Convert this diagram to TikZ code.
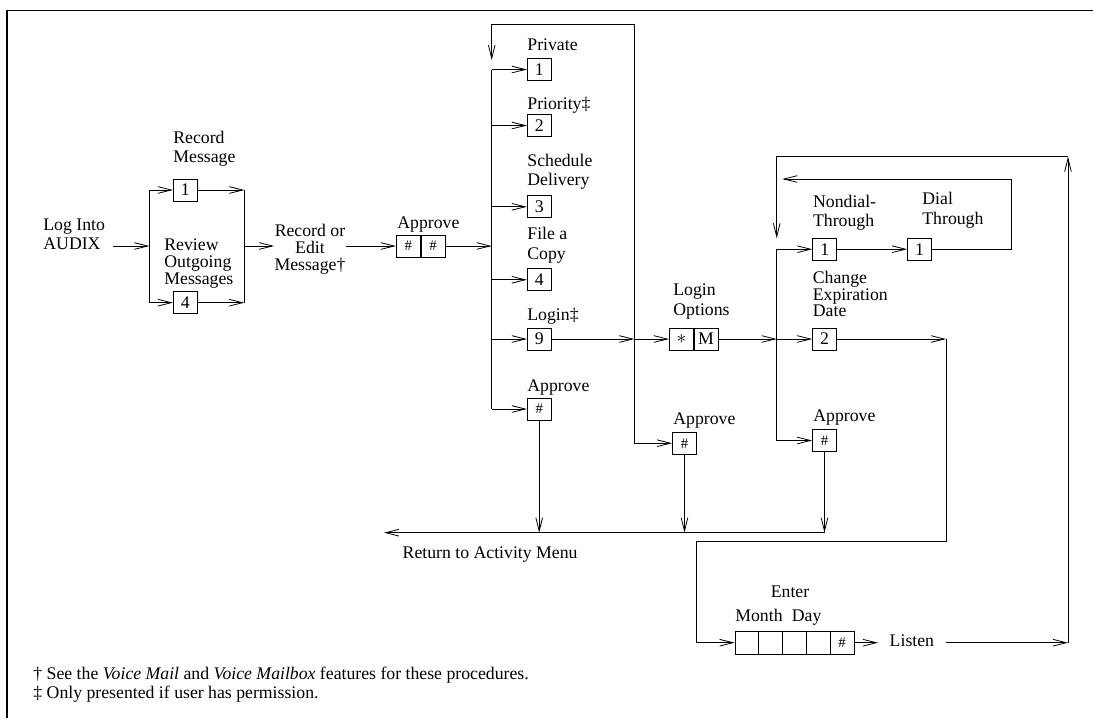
\documentclass[tikz,border=0pt]{standalone}
\usepackage{fontspec}
\setmainfont{Liberation Serif}
\usetikzlibrary{arrows.meta,positioning}

\newcommand{\keyhash}{{\fontsize{11pt}{11pt}\selectfont\#}}

\tikzset{
    flow/.style={-{Straight Barb[length=10pt,width=5pt]}},
    key/.style={draw, minimum width=18pt, minimum height=16.5pt, inner sep=0pt},
    lbl/.style={inner sep=0pt, align=left, anchor=south west},
    tight/.style={font=\fontsize{13.3pt}{12.5pt}\selectfont},
    word/.style={inner sep=0pt, anchor=base west}
}

\begin{document}
\begin{tikzpicture}[x=0.75pt, y=-0.75pt, line width=0.6pt,
    every node/.style={font=\fontsize{13.3pt}{14.5pt}\selectfont}]
    \fill[white] (0,0) rectangle (1093,718);
    \useasboundingbox (0,0) rectangle (1093,718);

    % frame
    \draw[line width=1pt] (7,718) -- (7,10.7) -- (1093,10.7);

    % log in and record
    \node[lbl, inner xsep=6pt] (log) at (35,256.1) {Log Into\\AUDIX\strut};
    \node[key] (rm1) at (185.3,190) {1};
    \node[key] (rm4) at (185.3,302.7) {4};
    \node[lbl] (rm1l) at (173,168.7) {Record\\Message\strut};
    \node[lbl, tight] (rm4l) at (164,289.4) {Review\\Outgoing\\Messages\strut};
    \coordinate (sl1) at (149.3,190);
    \coordinate (sl4) at (149.3,302.7);
    \coordinate (lx) at (149.3,246);
    \coordinate (sr1) at (244.3,190);
    \coordinate (sr4) at (244.3,302.7);
    \coordinate (sm) at (244.3,246);

    \draw[flow] (log.east |- lx) -- (lx);
    \draw (sl1) -- (sl4);
    \draw[flow] (sl1) -- (rm1);
    \draw[flow] (sl4) -- (rm4);
    \draw[flow] (rm1) -- (sr1);
    \draw[flow] (rm4) -- (sr4);
    \draw (sr1) -- (sr4);

    \node[lbl, tight, align=center, anchor=south] (edit) at (310,275.4) {Record or\\Edit\\Message†\strut};
    \draw[flow] (sm) -- (edit.west |- sm);

    % approve the message
    \node[key] (ap1) at (408.2,246) {\keyhash};
    \node[key, right=0pt of ap1] (ap2) {\keyhash};
    \node[word] (apl) at (397,228.3) {Approve};
    \draw[flow] (edit.east |- ap1) -- (ap1);

    % options column
    \coordinate (cb1) at (491.7,69.5);
    \coordinate (cbz) at (491.7,409);
    \foreach \nm/\y/\t in {pvt/69.5/1, pri/125.5/2, sch/206.8/3, fil/279.8/4, lgn/339/9, capp/409/\keyhash}
        \node[key] (\nm) at (539.2,\y) {\t};
    \node[word] (pvtl) at (527,50.7) {Private};
    \node[word] (pril) at (527,109) {Priority‡};
    \node[lbl] (schl) at (527,192.1) {Schedule\\Delivery\strut};
    \node[lbl] (fill) at (527,265.4) {File a\\Copy\strut};
    \node[word] (lgnl) at (527,320) {Login‡};
    \node[word] (cappl) at (527,391) {Approve};

    \draw[flow] (ap2) -- (ap2 -| cb1);
    \draw (cb1) -- (cbz);
    \foreach \nm in {pvt,pri,sch,fil,lgn,capp}
        \draw[flow] (\nm -| cb1) -- (\nm);

    % loop back to the options
    \coordinate (tr) at (634.3,24.3);
    \coordinate (tl) at (491.7,24.3);
    \coordinate (tlend) at (491.7,60);

    % login options
    \node[key] (lo1) at (681.3,339) {$*$};
    \node[key, right=0pt of lo1] (lo2) {M};
    \node[lbl] (lol) at (673,321.4) {Login\\Options\strut};
    \node[key] (mapp) at (684.5,443.2) {\keyhash};
    \node[word] (mappl) at (673,424) {Approve};

    \draw[flow] (lgn) -- (lgn -| tr);
    \draw[flow] (lgn -| tr) -- (lo1);
    \draw[flow] (tr |- mapp) -- (tr) -- (tl) -- (tlend);
    \draw[flow] (tr |- mapp) -- (mapp);

    % login option keys
    \coordinate (rbt) at (776.7,249.2);
    \coordinate (rbb) at (776.7,440.5);
    \node[key] (nd1) at (824.7,249.2) {1};
    \node[key] (dt1) at (919.5,249.2) {1};
    \node[key] (ce2) at (824.5,339) {2};
    \node[key] (rapp) at (824.5,440.5) {\keyhash};
    \node[lbl] (nd1l) at (812.7,232.7) {Nondial-\\Through\strut};
    \node[lbl] (dt1l) at (922,230.4) {Dial\\Through\strut};
    \node[lbl, tight] (ce2l) at (812.5,322.1) {Change\\Expiration\\Date\strut};
    \node[word] (rappl) at (813,421) {Approve};

    \draw[flow] (lo2) -- (lo2 -| rbt);
    \draw (rbt) -- (rbb);
    \draw[flow] (rbt) -- (nd1);
    \draw[flow] (ce2 -| rbt) -- (ce2);
    \draw[flow] (rbb) -- (rapp);
    \draw[flow] (nd1) -- (dt1);

    % dial through loop
    \coordinate (il1) at (1011.7,179);
    \coordinate (il2) at (782.3,179);
    \draw[flow] (dt1) -- (dt1 -| il1) -- (il1) -- (il2);

    % return to activity menu
    \coordinate (ret) at (384,532.7);
    \node[word] (retl) at (402.3,558.3) {Return to Activity Menu};
    \draw[flow] (capp) -- (capp |- ret);
    \draw[flow] (mapp) -- (mapp |- ret);
    \draw[flow] (rapp) -- (rapp |- ret);
    \draw[flow] (rapp |- ret) -- (ret);

    % expiration date
    \foreach \i/\x in {1/746.9, 2/770.7, 3/794.5, 4/818.3}
        \node[key, minimum width=17.85pt, minimum height=17.5pt] (e\i) at (\x,642.7) {};
    \node[key, minimum width=17.85pt, minimum height=17.5pt] (e5) at (842.1,642.7) {\keyhash};
    \node[inner sep=0pt, anchor=base] (entl) at (790,597.3) {Enter};
    \node[inner sep=0pt, anchor=base] (monl) at (759,621) {Month};
    \node[inner sep=0pt, anchor=base] (dayl) at (806.7,621) {Day};
    \node[word, inner xsep=8.5pt] (lis) at (878,646) {Listen};

    \coordinate (dr) at (946,339);
    \coordinate (db) at (946,541.7);
    \coordinate (dl) at (696,541.7);
    \draw[flow] (ce2) -- (dr);
    \draw[flow] (dr) -- (db) -- (dl) -- (dl |- e1) -- (e1);
    \draw[flow] (e5) -- (lis.west |- e5);

    % back to the login options
    \coordinate (oc) at (1068,642.7);
    \coordinate (ot) at (1068,156.7);
    \coordinate (ol) at (776.7,156.7);
    \coordinate (olend) at (776.7,238.3);
    \draw[flow] (lis.east |- e5) -- (oc);
    \draw[flow] (oc) -- (ot);
    \draw[flow] (ot) -- (ol) -- (olend);

    % footnotes
    \node[word] (fn1) at (33,679) {† See the \textit{Voice Mail} and \textit{Voice Mailbox} features for these procedures.};
    \node[word] (fn2) at (33,698) {‡ Only presented if user has permission.};
\end{tikzpicture}
\end{document}
